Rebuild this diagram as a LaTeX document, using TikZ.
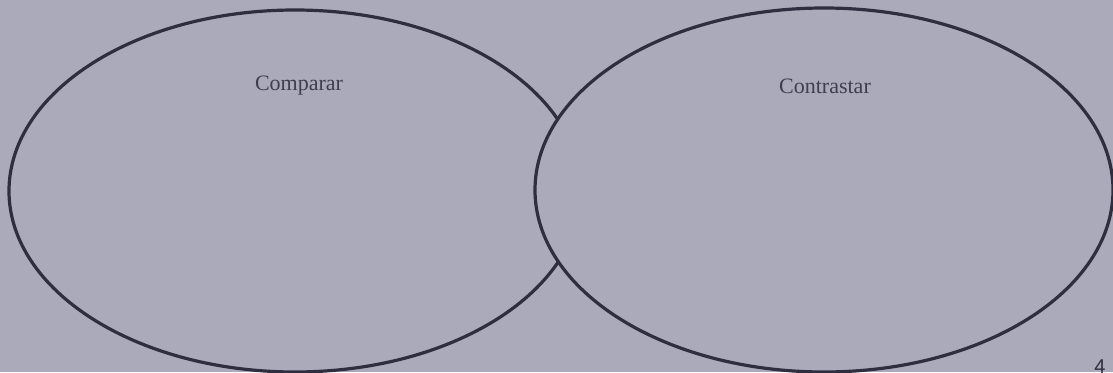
\documentclass[tikz,border=0pt]{standalone}
\usepackage{fontspec}
\setmainfont{Liberation Serif}
\newfontfamily\pagefont{Liberation Sans}
\definecolor{paper}{RGB}{170,170,186}
\definecolor{ink}{RGB}{46,46,64}
\definecolor{txt}{RGB}{62,62,80}
\tikzset{
  venn/.style={draw=ink, line width=3.2pt},
  label/.style={text=txt, font=\fontsize{22}{24}\selectfont, inner sep=0pt}
}
\begin{document}
\begin{tikzpicture}[x=1pt,y=-1pt]
  \fill[paper] (0,0) rectangle (1113,372);
  \useasboundingbox (0,0) rectangle (1113,372);
  % right ellipse (Contrastar)
  \draw[venn] (824,190) ellipse [x radius=289pt, y radius=182pt];
  % left ellipse (Comparar), omitted inside the right one
  \begin{scope}[even odd rule]
    \clip (-10,-10) rectangle (1123,382) (824,190) ellipse [x radius=289pt, y radius=182pt];
    \draw[venn] (295,191) ellipse [x radius=286pt, y radius=181pt];
  \end{scope}
  \node[label] (comparar) at (299,86) {Comparar};
  \node[label] (contrastar) at (825,86) {Contrastar};
  \begin{scope}
    \clip (0,0) rectangle (1113,372);
    \node[text=ink, font=\pagefont\fontsize{20}{24}\selectfont, inner sep=0pt, anchor=north] (page) at (1100,360) {4};
  \end{scope}
\end{tikzpicture}
\end{document}
